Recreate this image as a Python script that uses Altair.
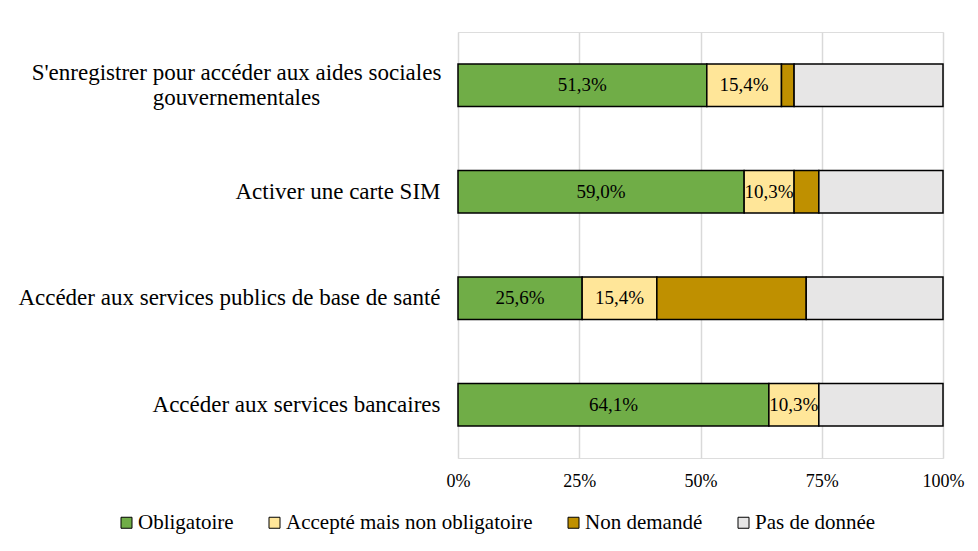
import altair as alt
import pandas as pd

categories = [
    "S'enregistrer pour accéder aux aides sociales|gouvernementales",
    "Activer une carte SIM",
    "Accéder aux services publics de base de santé",
    "Accéder aux services bancaires",
]
series = ["Obligatoire", "Accepté mais non obligatoire", "Non demandé", "Pas de donnée"]
obligatoire = [51.3, 59.0, 25.6, 64.1]
accepte = [15.4, 10.3, 15.4, 10.3]
non_demande = [2.6, 5.1, 30.8, 0.0]
pas_de_donnee = [30.7, 25.6, 28.2, 25.6]
colors = ["#70AD47", "#FFE699", "#BF9000", "#E7E6E6"]
labelled = ["Obligatoire", "Accepté mais non obligatoire"]

rows = []
for i, cat in enumerate(categories):
    start = 0.0
    for s, vals in zip(series, [obligatoire, accepte, non_demande, pas_de_donnee]):
        v = vals[i]
        end = start + v
        rows.append({
            "cat": cat, "series": s, "value": v,
            "start": start, "end": end, "mid": (start + end) / 2,
            "order": series.index(s),
            "label": (f"{v:.1f}".replace(".", ",") + "%") if s in labelled else "",
        })
        start = end
df = pd.DataFrame(rows)

FONT = "Liberation Serif, Times New Roman, DejaVu Serif, serif"
multi = "indexof(datum.value, '|') >= 0"

y_enc = alt.Y(
    "cat:N", sort=categories, title=None,
    scale=alt.Scale(paddingInner=0.6, paddingOuter=0.3),
    axis=alt.Axis(labelExpr="split(datum.label, '|')", labelFont=FONT,
                  labelFontSize=23, labelLineHeight=25, labelColor="#000000",
                  labelLimit=600, ticks=False, domain=False,
                  labelPadding={"condition": {"test": multi, "value": 222}, "value": 18},
                  labelAlign={"condition": {"test": multi, "value": "center"}, "value": "right"},
                  labelOffset={"condition": {"test": multi, "value": -12}, "value": 0}),
)
x_enc = alt.X(
    "start:Q", title=None, scale=alt.Scale(domain=[0, 100], nice=False),
    axis=alt.Axis(values=[0, 25, 50, 75, 100], labelExpr="datum.value + '%'",
                  labelFont=FONT, labelFontSize=18, labelColor="#000000",
                  labelPadding=14, labelFlush=False, ticks=False, domain=False,
                  grid=True, gridColor="#D9D9D9", gridWidth=1.5),
)

bars = alt.Chart(df).transform_filter("datum.value > 0").mark_bar(
    stroke="#000000", strokeWidth=1.5
).encode(
    y=y_enc,
    x=x_enc,
    x2="end:Q",
    color=alt.Color(
        "series:N", scale=alt.Scale(domain=series, range=colors), title=None,
        legend=alt.Legend(orient="none", direction="horizontal", legendX=-342,
                          legendY=480, symbolType="square", symbolSize=121,
                          symbolStrokeColor="#000000", symbolStrokeWidth=1,
                          labelFont=FONT, labelFontSize=21, labelColor="#000000",
                          columnPadding=30, labelOffset=1, labelLimit=400),
    ),
    order="order:Q",
)

texts = alt.Chart(df).transform_filter("datum.label != ''").mark_text(
    font=FONT, fontSize=19, color="#000000"
).encode(
    y=alt.Y("cat:N", sort=categories),
    x=alt.X("mid:Q"),
    text="label:N",
)

chart = alt.layer(bars, texts).properties(
    width=485, height=426,
    padding={"left": 450, "top": 24, "right": 27, "bottom": 85},
    autosize=alt.AutoSizeParams(type="none"),
).configure_view(stroke=None).configure(background="#FFFFFF")

chart.save("out.html", embed_options={"renderer": "svg", "actions": False})
